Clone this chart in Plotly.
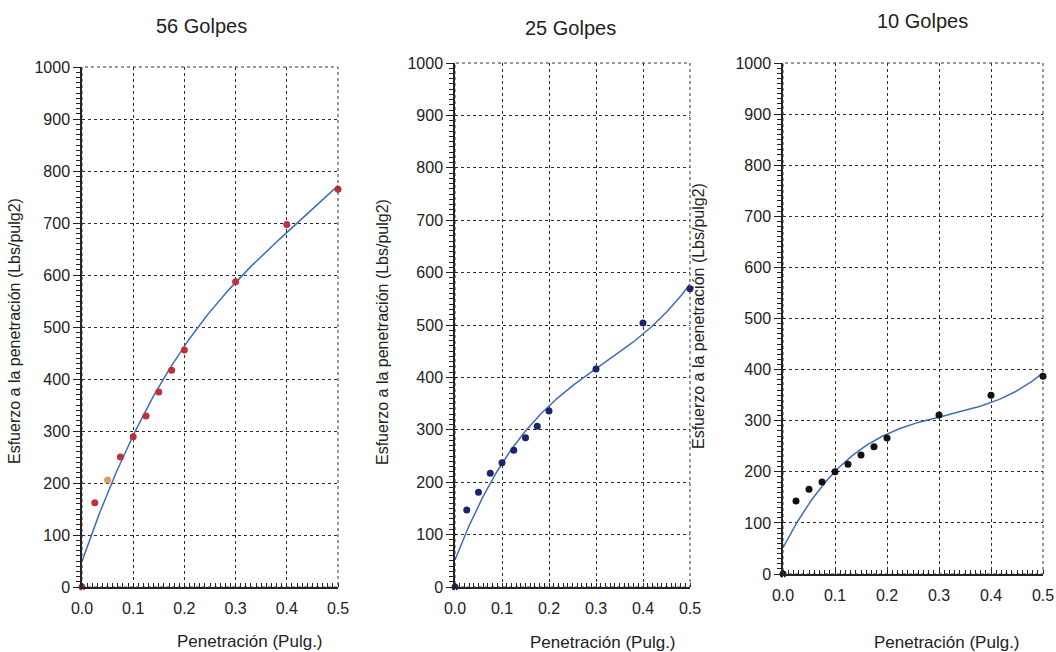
import numpy as np
import plotly.graph_objects as go

# Penetración (pulgadas) used in every CBR test
penetracion = [0.0, 0.025, 0.05, 0.075, 0.1, 0.125, 0.15, 0.175, 0.2, 0.3, 0.4, 0.5]

# Esfuerzo a la penetración (Lbs/pulg2) for each compaction energy
esfuerzo_56 = [0, 162, 206, 250, 289, 329, 375, 417, 456, 587, 697, 765]
esfuerzo_25 = [0, 147, 181, 217, 237, 261, 285, 307, 336, 416, 504, 569]
esfuerzo_10 = [0, 143, 166, 180, 200, 215, 233, 249, 266, 311, 350, 387]

titulos = ["56 Golpes", "25 Golpes", "10 Golpes"]
y_step, y_max = 100, 1000
x_step, x_max = 0.1, 0.5

W, H = 1056, 652
FONT = "Liberation Sans, Arial, sans-serif"

# pixel boxes of each plot area: (left, right, top, bottom)
boxes = [(82, 338, 67, 587), (455, 690, 63, 587), (783, 1043, 63, 574)]
marker_colors = [
    ["#c0303c"] * 2 + ["#e29a55"] + ["#c0303c"] * 9,
    "#1c2470",
    "#111111",
]
series = [esfuerzo_56, esfuerzo_25, esfuerzo_10]
title_pos = [(201, 26), (570, 28), (922, 21)]
ytitle_pos = [(15, 331), (383, 332), (698, 316)]
xtitle_pos = [(250, 641), (603, 642), (947, 642)]

fig = go.Figure()
annotations = []


def label(text, x, y, size, angle=0):
    return dict(text=text, x=x / W, y=1 - y / H, xref="paper", yref="paper",
                xanchor="center", yanchor="middle", textangle=angle, showarrow=False,
                font=dict(family=FONT, size=size, color="#222"))


for i, (vals, box) in enumerate(zip(series, boxes)):
    n = "" if i == 0 else str(i + 1)
    xa, ya = "x" + n, "y" + n
    l, r, t, b = box
    # third-order trend line through the measured points
    coef = np.polyfit(penetracion, vals, 3)
    xs = np.linspace(0, x_max, 200)
    fig.add_trace(go.Scatter(x=xs, y=np.polyval(coef, xs), mode="lines",
                             line=dict(color="#3f6fb3", width=1.5),
                             xaxis=xa, yaxis=ya, showlegend=False, hoverinfo="skip"))
    fig.add_trace(go.Scatter(x=penetracion, y=vals, mode="markers", cliponaxis=False,
                             marker=dict(color=marker_colors[i], size=7),
                             xaxis=xa, yaxis=ya, showlegend=False))
    axis_common = dict(showgrid=True, gridcolor="#2a2a2a", griddash="dot", gridwidth=1,
                       zeroline=False, showline=True, linecolor="#222222", linewidth=1.5,
                       mirror=False, tickmode="linear", tick0=0, tickcolor="#222",
                       tickfont=dict(family=FONT, size=16, color="#222"))
    fig.layout["xaxis" + n] = dict(
        axis_common, domain=[l / W, r / W], range=[0, x_max], dtick=x_step,
        tickformat=".1f", anchor=ya, ticks="outside", ticklen=6, tickcolor="white",
        minor=dict(dtick=0.01, ticks="inside", ticklen=4, tickcolor="#222"))
    fig.layout["yaxis" + n] = dict(
        axis_common, domain=[1 - b / H, 1 - t / H], range=[0, y_max], dtick=y_step,
        anchor=xa, ticks="outside", ticklen=7,
        minor=dict(dtick=10, ticks="outside", ticklen=4, tickcolor="#222"))
    # plot frame (dotted top and right edges)
    fig.add_shape(type="rect", xref="paper", yref="paper", x0=l / W, x1=r / W,
                  y0=1 - b / H, y1=1 - t / H, line=dict(color="#333", width=1, dash="dot"))
    annotations.append(label(titulos[i], *title_pos[i], 20))
    annotations.append(label("Esfuerzo a la penetración (Lbs/pulg2)", *ytitle_pos[i], 16, -90))
    annotations.append(label("Penetración (Pulg.)", *xtitle_pos[i], 17))

fig.update_layout(width=W, height=H, margin=dict(l=0, r=0, t=0, b=0, autoexpand=False),
                  paper_bgcolor="white", plot_bgcolor="white", annotations=annotations)
fig.write_html("out.html")
